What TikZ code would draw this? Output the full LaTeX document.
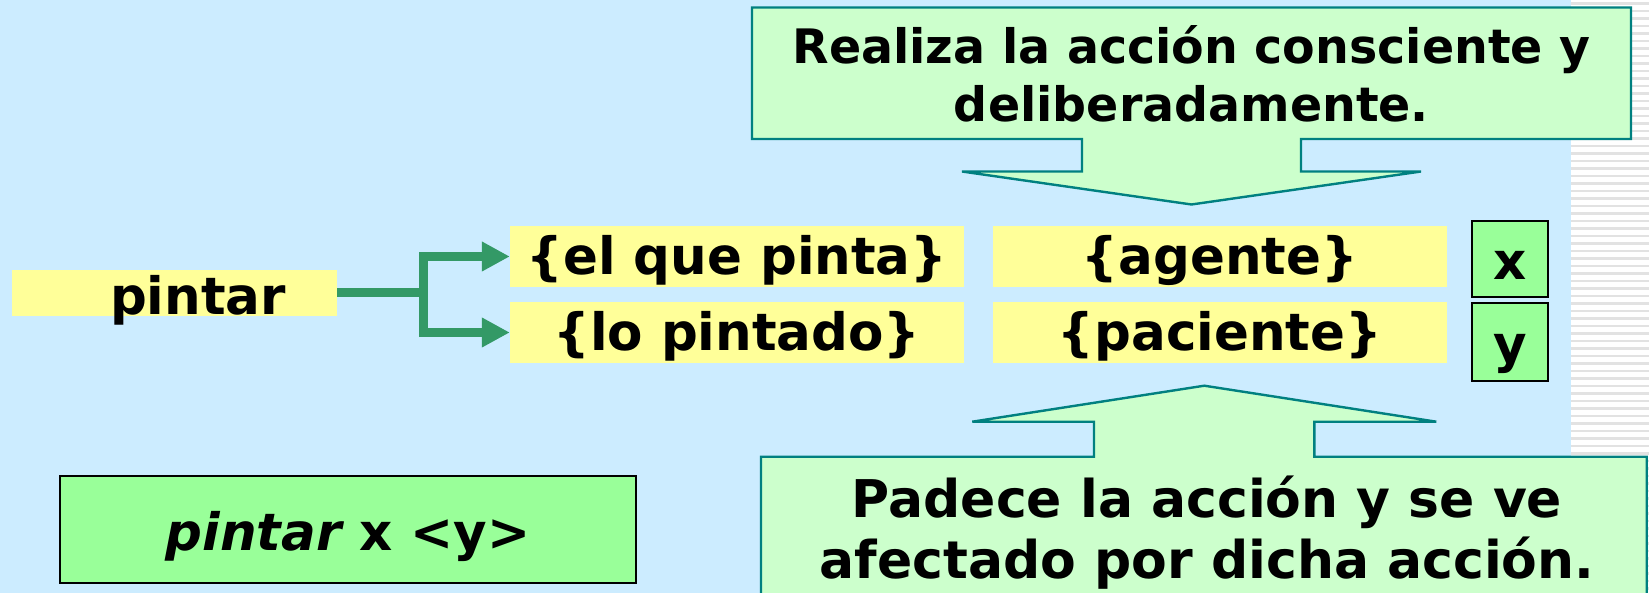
\documentclass[tikz,border=0pt]{standalone}
\usepackage{fontspec}
\setmainfont{DejaVu Sans}
\usetikzlibrary{arrows.meta}
\definecolor{bgblue}{HTML}{CCECFF}
\definecolor{ybox}{HTML}{FFFF99}
\definecolor{gbox}{HTML}{99FF99}
\definecolor{callfill}{HTML}{CCFFCC}
\definecolor{callline}{HTML}{008080}
\definecolor{arrgreen}{HTML}{339966}
\definecolor{stripecol}{HTML}{E2E2E2}
\begin{document}
\begin{tikzpicture}[x=1pt,y=-1pt,
  bigfont/.style={font=\fontsize{51.5}{60}\selectfont\bfseries},
  ytext/.style={bigfont, fill=ybox, inner sep=0pt, minimum height=61pt, minimum width=454pt, text height=40pt, text depth=4pt},
  varbox/.style={bigfont, fill=gbox, draw=black, line width=2pt, inner sep=0pt, minimum width=76pt, text height=42pt, text depth=0pt},
  callout/.style={fill=callfill, draw=callline, line width=2.4pt, line join=miter},
  conn/.style={draw=arrgreen, line width=9pt},
  conntip/.style={conn, -{Triangle[length=28pt,width=28pt]}}
]
\useasboundingbox (0,0) rectangle (1649,593);
\clip (0,0) rectangle (1649,593);
% background
\fill[bgblue] (0,0) rectangle (1571,593);
\fill[white] (1571,0) rectangle (1649,593);
\foreach \i in {0,...,79}
  \draw[stripecol, line width=2.2pt] (1571,{3.5+7.5*\i}) -- (1649,{3.5+7.5*\i});

% callouts
\draw[callout] (752,7.5) -- (1631,7.5) -- (1631,139) -- (1301,139) -- (1301,171.5)
  -- (1421,171.5) -- (1191.5,204.5) -- (962,171.5) -- (1082,171.5) -- (1082,139)
  -- (752,139) -- cycle;
\draw[callout] (761,456.7) -- (1094,456.7) -- (1094,421.7) -- (972.3,421.7)
  -- (1204.3,385.7) -- (1436.3,421.7) -- (1314.3,421.7) -- (1314.3,456.7)
  -- (1646.7,456.7) -- (1646.7,610) -- (761,610) -- cycle;

\node[font=\fontsize{47.5}{57.7}\selectfont\bfseries, anchor=base, inner sep=0pt] (realiza) at (1191.5,64)
  {\begin{tabular}[t]{@{}c@{}}Realiza la acción consciente y\\deliberadamente.\end{tabular}};
\node[font=\fontsize{52}{61}\selectfont\bfseries, anchor=base, inner sep=0pt] (padece) at (1207,517.3)
  {\begin{tabular}[t]{@{}c@{}}Padece la acción y se ve\\afectado por dicha acción.\end{tabular}};

% main nodes
\node[bigfont, fill=ybox, inner sep=0pt, minimum width=325pt, minimum height=46pt, text height=43pt, text depth=0pt] (pintarbox) at (174.5,293) {\hspace*{47pt}pintar};
\node[ytext] (elque) at (737,256.5) {\{el que pinta\}};
\node[ytext] (lopint) at (737,332.5) {\{lo pintado\}};
\node[ytext] (agente) at (1220,256.5) {\{agente\}};
\node[ytext] (paciente) at (1220,332.5) {\{paciente\}};
\node[varbox, minimum height=76pt] (xvar) at (1510,259) {x};
\node[varbox, minimum height=78pt, text height=41pt] (yvar) at (1510,342) {y};
\node[bigfont, fill=gbox, draw=black, line width=2pt, inner sep=0pt, minimum width=576pt, minimum height=107pt, text height=42pt, text depth=0pt] (formula) at (348,529.5) {{\itshape pintar} x <y>};

% connectors
\coordinate (jn) at (423,293);
\draw[conn] (pintarbox.east) -- (jn);
\draw[conntip] (jn) |- (elque.west);
\draw[conntip] (jn) |- (lopint.west);
\end{tikzpicture}
\end{document}
